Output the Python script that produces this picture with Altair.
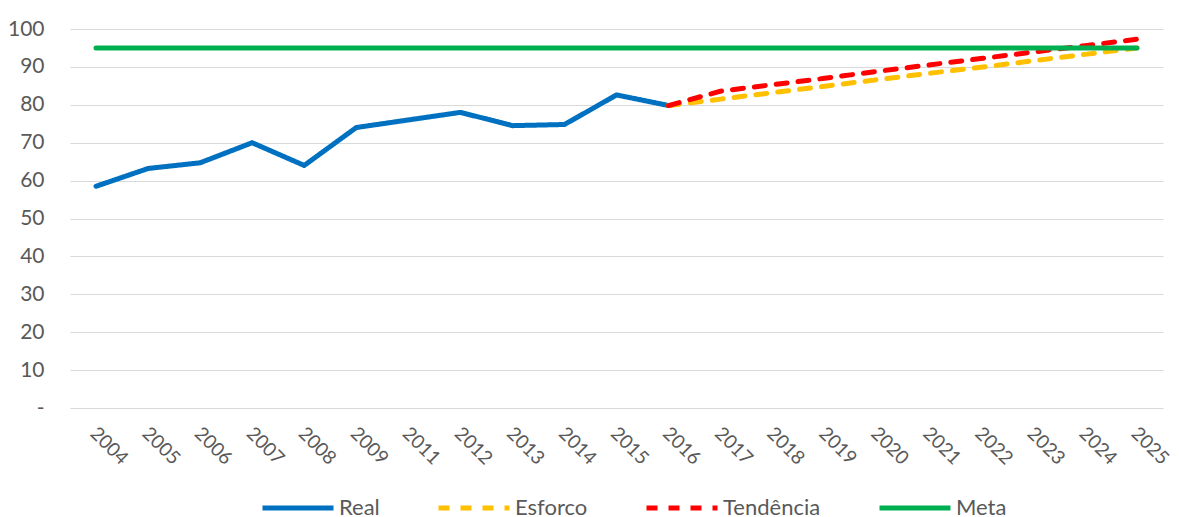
import altair as alt
import pandas as pd

years = ["2004", "2005", "2006", "2007", "2008", "2009", "2011", "2012", "2013",
         "2014", "2015", "2016", "2017", "2018", "2019", "2020", "2021", "2022",
         "2023", "2024", "2025"]

real_years = years[0:12]
real_values = [58.5, 63.2, 64.7, 70.0, 64.0, 74.0, 76.0, 78.0, 74.5, 74.8, 82.6, 79.8]

proj_years = years[11:]
esforco_values = [79.8, 81.5, 83.2, 84.9, 86.6, 88.3, 89.9, 91.6, 93.3, 95.0]
tendencia_values = [79.8, 83.6, 85.3, 87.0, 88.8, 90.5, 92.2, 93.9, 95.6, 97.3]

meta_years = years
meta_values = [95, 95, 95, 95, 95, 95, 95, 95, 95, 95, 95, 95, 95, 95, 95, 95,
               95, 95, 95, 95, 95]

series_names = ["Real", "Esforco", "Tendência", "Meta"]
series_colors = ["#0070C0", "#FFC000", "#FF0000", "#00B050"]
series_dashes = [[1, 0], [11, 11], [11, 11], [1, 0]]

y_ticks = [0, 10, 20, 30, 40, 50, 60, 70, 80, 90, 100]

rows = []
for s, ys, vs in [("Real", real_years, real_values),
                  ("Esforco", proj_years, esforco_values),
                  ("Tendência", proj_years, tendencia_values),
                  ("Meta", meta_years, meta_values)]:
    for yr, v in zip(ys, vs):
        rows.append({"year": yr, "value": v, "series": s})
df = pd.DataFrame(rows)

FONT = "Lato"
GREY = "#595959"

legend = alt.Legend(
    title=None, orient="none", legendX=190, legendY=441, direction="horizontal",
    symbolType="stroke", symbolSize=5041, symbolStrokeWidth=5,
    labelFont=FONT, labelFontSize=22, labelColor=GREY, labelOffset=3,
    columnPadding=48,
)

base = alt.Chart(df).mark_line(strokeWidth=5, strokeCap="round", strokeJoin="round").encode(
    x=alt.X("year:N", sort=years, scale=alt.Scale(domain=years),
            axis=alt.Axis(title=None, labelAngle=45, labelAlign="left", labelBaseline="middle",
                          labelPadding=22, labelOffset=-3, ticks=False, domain=False, grid=False,
                          labelFont=FONT, labelFontSize=19, labelColor=GREY)),
    y=alt.Y("value:Q", scale=alt.Scale(domain=[0, 100], nice=False),
            axis=alt.Axis(title=None, values=y_ticks, ticks=False, domain=False,
                          labelExpr="datum.value == 0 ? '-' : datum.label",
                          labelPadding=26, labelFont=FONT, labelFontSize=21, labelColor=GREY,
                          gridColor="#d9d9d9", gridWidth=1.2)),
    color=alt.Color("series:N", scale=alt.Scale(domain=series_names, range=series_colors),
                    legend=legend),
    strokeDash=alt.StrokeDash("series:N", scale=alt.Scale(domain=series_names, range=series_dashes),
                              legend=legend),
)

layers = [base.transform_filter(alt.datum.series == s) for s in series_names]

chart = alt.layer(*layers).properties(
    width=1093, height=379,
    padding={"left": 62, "top": 21, "right": 8, "bottom": 125},
    autosize=alt.AutoSizeParams(type="none"),
    background="white",
).configure_view(stroke=None)

chart.save("out.html", embed_options={"renderer": "svg", "actions": False})
